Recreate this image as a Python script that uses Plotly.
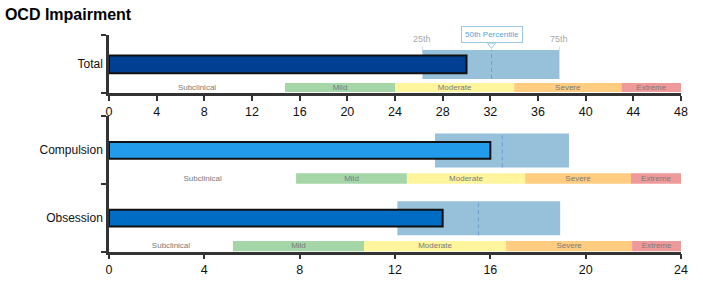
import plotly.graph_objects as go

# ---------------- data ----------------
chart_title = "OCD Impairment"
band_names = ["Subclinical", "Mild", "Moderate", "Severe", "Extreme"]
band_colors = ["rgba(0,0,0,0)", "#a5d6a7", "#fff59d", "#ffcc80", "#ef9a9a"]

total_label = "Total"
total_score = 30
total_p25 = 26.3
total_p50 = 32.1
total_p75 = 37.8
total_bands = [0, 14.77, 24, 34, 43, 48]
total_ticks = [0, 4, 8, 12, 16, 20, 24, 28, 32, 36, 40, 44, 48]

sub_labels = ["Obsession", "Compulsion"]
sub_scores = [14, 16]
sub_p25 = [12.1, 13.68]
sub_p50 = [15.5, 16.5]
sub_p75 = [18.93, 19.3]
sub_bands = [[0, 5.2, 10.7, 16.66, 21.95, 24],
             [0, 7.85, 12.5, 17.46, 21.9, 24]]
sub_ticks = [0, 4, 8, 12, 16, 20, 24]

total_color = "#003f91"
sub_colors = ["#006cc4", "#229bea"]
box_color = "#97c1db"
median_color = "#6a9ecb"
pct_text = ["25th", "50th Percentile", "75th"]

FONT = "Arial, 'Liberation Sans', Helvetica, sans-serif"

fig = go.Figure()


def add_row(xa, ya, pos, score, p25, p50, p75, bands, color, geo):
    bar_off, bar_w, box_off, box_w, band_off, band_w = geo
    # percentile box
    fig.add_trace(go.Bar(orientation="h", y=[pos], x=[p75 - p25], base=[p25],
                         offset=box_off, width=box_w, marker=dict(color=box_color, line=dict(width=0)),
                         xaxis=xa, yaxis=ya, showlegend=False, hoverinfo="skip"))
    # severity bands
    starts = bands[:-1]
    widths = [bands[i + 1] - bands[i] for i in range(len(bands) - 1)]
    fig.add_trace(go.Bar(orientation="h", y=[pos] * len(widths), x=widths, base=starts,
                         offset=band_off, width=band_w,
                         marker=dict(color=band_colors, line=dict(width=0)),
                         xaxis=xa, yaxis=ya, showlegend=False, hoverinfo="skip"))
    # score bar
    fig.add_trace(go.Bar(orientation="h", y=[pos], x=[score], base=[0],
                         offset=bar_off, width=bar_w,
                         marker=dict(color=color, line=dict(color="#111111", width=2)),
                         xaxis=xa, yaxis=ya, showlegend=False, hoverinfo="skip"))
    # median line
    fig.add_trace(go.Scatter(x=[p50, p50], y=[pos + box_off, pos + box_off + box_w], mode="lines",
                             line=dict(color=median_color, width=1, dash="4px,3px"),
                             xaxis=xa, yaxis=ya, showlegend=False, hoverinfo="skip"))
    # band labels
    mids = [(bands[i] + bands[i + 1]) / 2 for i in range(len(bands) - 1)]
    fig.add_trace(go.Scatter(x=mids, y=[pos + band_off + band_w / 2] * len(mids), mode="text",
                             text=band_names, textposition="middle center",
                             textfont=dict(size=8, color="#7a7a7a", family=FONT),
                             xaxis=xa, yaxis=ya, showlegend=False, hoverinfo="skip"))


top_geo = (-0.16, 0.307, -0.259, 0.5, -0.483, 0.155)
bot_geo = (-0.13, 0.245, -0.26, 0.5, -0.5, 0.155)

add_row("x", "y", 0, total_score, total_p25, total_p50, total_p75, total_bands, total_color, top_geo)
for i in range(len(sub_labels)):
    add_row("x2", "y2", i, sub_scores[i], sub_p25[i], sub_p50[i], sub_p75[i], sub_bands[i], sub_colors[i], bot_geo)

# small edge ticks above the top box
box_top = top_geo[2] + top_geo[3]
for q in (total_p25, total_p75):
    fig.add_trace(go.Scatter(x=[q, q], y=[box_top, box_top + 0.055], mode="lines",
                             line=dict(color="#c9dcec", width=1), xaxis="x", yaxis="y",
                             showlegend=False, hoverinfo="skip"))
# pointer of the 50th percentile callout
fig.add_trace(go.Scatter(x=[total_p50], y=[0.33], mode="markers",
                         marker=dict(symbol="triangle-down", size=7, color="white",
                                     line=dict(color="#9ecae1", width=1)),
                         xaxis="x", yaxis="y", showlegend=False, hoverinfo="skip", cliponaxis=False))

annotations = [
    dict(x=total_p25, y=1 - 39 / 281, xref="x", yref="paper", text=pct_text[0], showarrow=False,
         yanchor="middle", font=dict(size=9, color="#a8a8a8", family=FONT)),
    dict(x=total_p75, y=1 - 39 / 281, xref="x", yref="paper", text=pct_text[2], showarrow=False,
         yanchor="middle", font=dict(size=9, color="#a8a8a8", family=FONT)),
    dict(x=total_p50, y=1 - 34.5 / 281, xref="x", yref="paper", text=pct_text[1], showarrow=False,
         yanchor="middle", font=dict(size=8, color="#5aa3d6", family=FONT), bgcolor="white",
         bordercolor="#9ecae1", borderwidth=1, borderpad=3),
]

xdom = [109 / 703, 681 / 703]
axis_common = dict(showline=True, linecolor="#333333", linewidth=2.5, showgrid=False, zeroline=False,
                   automargin=False)

fig.update_layout(
    template="none",
    width=703, height=281,
    margin=dict(l=0, r=0, t=0, b=0),
    paper_bgcolor="white", plot_bgcolor="white",
    barmode="overlay",
    font=dict(family=FONT),
    title=dict(text="<b>" + chart_title + "</b>", x=0.007, xanchor="left", y=1 - 14 / 281,
               yanchor="middle", font=dict(size=16, color="#000000", family=FONT)),
    xaxis=dict(domain=xdom, anchor="y", range=[0, 48], tickvals=total_ticks,
               ticks="outside", ticklen=5, tickwidth=1.5, tickcolor="#333333",
               tickfont=dict(size=12.5, color="#111111", family=FONT), **axis_common),
    yaxis=dict(domain=[1 - 93 / 281, 1 - 35 / 281], anchor="x", range=[-0.5, 0.5],
               tickvals=[0], ticktext=[total_label], ticks="", ticklabelstandoff=1,
               tickfont=dict(size=12, color="#111111", family=FONT),
               minor=dict(tickvals=[-0.5, 0.5], ticks="outside", ticklen=5, tickwidth=1.5, tickcolor="#333333"),
               **axis_common),
    xaxis2=dict(domain=xdom, anchor="y2", range=[0, 24], tickvals=sub_ticks,
                ticks="outside", ticklen=5, tickwidth=1.5, tickcolor="#333333",
                tickfont=dict(size=12.5, color="#111111", family=FONT), **axis_common),
    yaxis2=dict(domain=[1 - 251.5 / 281, 1 - 116 / 281], anchor="x2", range=[-0.5, 1.5],
                tickvals=[0, 1], ticktext=sub_labels, ticks="", ticklabelstandoff=1,
                tickfont=dict(size=12, color="#111111", family=FONT),
                minor=dict(tickvals=[-0.5, 0.5, 1.5], ticks="outside", ticklen=5, tickwidth=1.5, tickcolor="#333333"),
                **axis_common),
    annotations=annotations,
)

fig.write_html("out.html")
